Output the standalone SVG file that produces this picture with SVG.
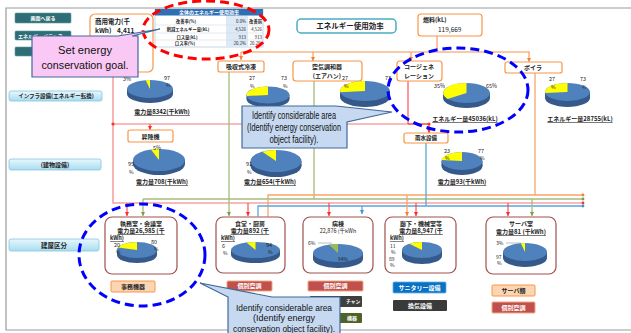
<svg xmlns="http://www.w3.org/2000/svg" width="631" height="333" viewBox="0 0 631 333">
<defs>
  <style>
    .j{font-family:'Noto Sans CJK JP','Noto Sans CJK SC',sans-serif;fill:#222}
    .b{font-weight:bold}
    .s5{font-size:5px}.s55{font-size:5.5px}.s6{font-size:6px}.s65{font-size:6.5px}
    .mid{text-anchor:middle}.end{text-anchor:end}
    .wt{fill:#fff}
    .u{text-decoration:underline}
    .en{font-family:'Liberation Sans',Arial,sans-serif;fill:#111;text-anchor:middle}
    .teal{fill:#2f6e76;stroke:#5f9aa2;stroke-width:.6}
    .ob{fill:#fff;stroke:#f79646;stroke-width:1.2}
    .bb{fill:#fff;stroke:#a0504d;stroke-width:1.2}
    .lab{fill:url(#cy);stroke:#86c5dc;stroke-width:.8}
    .pt{fill:#4f81bd}.ps{fill:#35598a}.py{fill:#ffff00}.pg{fill:#9bbb59}
    .pk{stroke:#f6a3a3;stroke-width:1.6;fill:none}
    .rd{stroke:#ff3030;stroke-width:1;fill:none}
    .gn{stroke:#a5bd7a;stroke-width:1.3;fill:none}
    .or{stroke:#f7a56a;stroke-width:1.3;fill:none}
    .ol{stroke:#f9c9a6;stroke-width:2;fill:none}
    .bl{stroke:#5aa6dc;stroke-width:1.3;fill:none}
    .frame{stroke:#9a9a9a;stroke-width:1.2;fill:none}
    .btn-r{fill:#c0504d;stroke:#f2a57c;stroke-width:1}
    .btn-o{fill:#fcd5b4;stroke:#f79646;stroke-width:1}
  </style>
  <linearGradient id="cy" x1="0" y1="0" x2="0" y2="1">
    <stop offset="0" stop-color="#e8f8fd"/>
    <stop offset="1" stop-color="#a8dcf0"/>
  </linearGradient>
  <marker id="ar-r" viewBox="0 0 4 4" refX="4" refY="2" markerWidth="4" markerHeight="4" orient="auto" markerUnits="userSpaceOnUse"><path d="M0,0 L4,2 L0,4z" fill="#ff2a2a"/></marker>
  <marker id="ar-g" viewBox="0 0 4 4" refX="4" refY="2" markerWidth="4" markerHeight="4" orient="auto" markerUnits="userSpaceOnUse"><path d="M0,0 L4,2 L0,4z" fill="#7e9c45"/></marker>
  <marker id="ar-o" viewBox="0 0 4 4" refX="4" refY="2" markerWidth="4" markerHeight="4" orient="auto" markerUnits="userSpaceOnUse"><path d="M0,0 L4,2 L0,4z" fill="#f47f30"/></marker>
  <marker id="ar-b" viewBox="0 0 4 4" refX="4" refY="2" markerWidth="4" markerHeight="4" orient="auto" markerUnits="userSpaceOnUse"><path d="M0,0 L4,2 L0,4z" fill="#3f94cf"/></marker>
</defs>

<rect width="631" height="333" fill="#fff"/>
<!-- page frame -->
<path class="frame" d="M631,8 H6 V330 H631"/>

<!-- energy flow lines -->
<g id="connectors">
  <!-- fuel supply -->
  <path class="or" d="M437,36 V52"/>
  <path class="ol" d="M241,52 H530"/>
  <path class="or" d="M241,52 V60" marker-end="url(#ar-o)"/>
  <path class="or" d="M313,52 V61" marker-end="url(#ar-o)"/>
  <path class="or" d="M411,52 V61" marker-end="url(#ar-o)"/>
  <path class="or" d="M529,52 V62" marker-end="url(#ar-o)"/>
  <!-- electricity -->
  <path class="pk" d="M113,72 V203 H583"/>
  <path class="pk" d="M113,124 H429"/>
  <path class="rd" d="M408,81 V124 H429"/>
  <circle cx="113" cy="124" r="1.6" fill="#ff3030"/>
  <circle cx="429" cy="124" r="1.6" fill="#ff3030"/>
  <path class="rd" d="M150,124 V130" marker-end="url(#ar-r)"/>
  <path class="rd" d="M429,124 V133" marker-end="url(#ar-r)"/>
  <!-- chilled / conditioned air -->
  <path class="gn" d="M229,72 V216" marker-end="url(#ar-g)"/>
  <path class="gn" d="M314,81 V199"/>
  <path class="gn" d="M143,199 H583"/>
  <!-- steam from boiler -->
  <path class="or" d="M535,73 V195"/>
  <path class="or" d="M268,216 V195 H583" marker-start="url(#ar-o)"/>
  <!-- rainwater -->
  <path class="bl" d="M426,143 V206"/>
  <path class="bl" d="M258,216 V206 H583" marker-start="url(#ar-b)"/>
  <!-- drops into buildings -->
  <path class="gn" d="M143,199 V216" marker-end="url(#ar-g)"/>
  <path class="gn" d="M532,199 V216" marker-end="url(#ar-g)"/>
  <path class="rd" d="M127,203 V216" marker-end="url(#ar-r)"/>
  <path class="rd" d="M248,203 V216" marker-end="url(#ar-r)"/>
  <path class="rd" d="M329,203 V216" marker-end="url(#ar-r)"/>
  <path class="rd" d="M416,203 V216" marker-end="url(#ar-r)"/>
  <path class="rd" d="M508,203 V216" marker-end="url(#ar-r)"/>
  <path class="or" d="M407,195 V216" marker-end="url(#ar-o)"/>
  <path class="bl" d="M362,206 V214" marker-end="url(#ar-b)"/>
  <circle cx="583" cy="195" r="1.4" fill="#f47f30"/>
  <circle cx="583" cy="199" r="1.4" fill="#7e9c45"/>
  <circle cx="583" cy="203" r="1.4" fill="#ff3030"/>
  <circle cx="583" cy="206" r="1.4" fill="#3f94cf"/>
</g>

<!-- navigation buttons -->
<g id="btn-back"><rect class="teal" x="15" y="13" width="56" height="10" rx="1"/><text class="j s5 b mid wt" x="43" y="20">画面へ戻る</text></g>
<g id="btn-balance"><rect class="teal" x="15" y="31" width="56" height="9" rx="1"/><text class="j s5 b wt" x="18" y="37.5">エネルギーバランス</text></g>
<g id="btn-third"><rect class="teal" x="15" y="47" width="56" height="9" rx="1"/></g>

<!-- side labels -->
<g id="lbl-infra"><rect class="lab" x="9" y="91" width="93" height="10" rx="2"/><text class="j s55 b mid" x="56" y="98.2">インフラ設備(エネルギー転換)</text></g>
<g id="lbl-building"><rect class="lab" x="9" y="159" width="92" height="11" rx="2"/><text class="j s6 b mid" x="55" y="167">(建物設備)</text></g>
<g id="lbl-section"><rect class="lab" x="9" y="239" width="90" height="12" rx="2"/><text class="j s65 b mid" x="54" y="247.5">建屋区分</text></g>

<!-- supply sources -->
<g id="commercial-power"><rect class="ob" x="90" y="14" width="63" height="58" rx="5"/>
  <text class="j s65 b" x="95" y="24">商用電力(千</text>
  <text class="j s65 b" x="95" y="33">kWh)</text><text class="j s65 b" x="117" y="33">4,411</text></g>

<g id="efficiency-table">
  <rect x="155" y="9" width="108" height="38" fill="#fff" stroke="#9db7d3" stroke-width=".6"/>
  <rect x="226" y="15.5" width="22" height="31.5" fill="#dce9f6"/>
  <rect x="155" y="9" width="108" height="6.5" fill="#2f6fb3"/>
  <text class="j s5 b mid wt" x="209" y="14.3">全体のエネルギー使用効率</text>
  <path d="M155,25 H263 M155,33 H263 M155,40 H263" stroke="#c8d5e3" stroke-width=".5"/>
  <text class="j b mid" font-size="4.3" x="186" y="23">改善率(%)</text>
  <text class="j b mid" font-size="4.3" x="188" y="31">削減エネルギー量(kL)</text>
  <text class="j b mid" font-size="4.3" x="187" y="38.5">ロス量(kL)</text>
  <text class="j b mid" font-size="4.3" x="185" y="45.3">ロス率(%)</text>
  <text class="j end" font-size="4.3" x="246" y="23">0.0%</text>
  <text class="j end" font-size="4.3" x="246" y="31">4,526</text>
  <text class="j end" font-size="4.3" x="246" y="38.5">913</text>
  <text class="j end" font-size="4.3" x="246" y="45.3">20.2%</text>
  <text class="j end b" font-size="4.3" x="262" y="23">改善前</text>
  <text class="j end" font-size="4.3" x="262" y="31">4,526</text>
  <text class="j end" font-size="4.3" x="262" y="38.5">913</text>
  <text class="j end" font-size="4.3" x="262" y="45.3">20.2%</text>
</g>

<g id="energy-efficiency"><rect x="297" y="19" width="99" height="14" rx="4" fill="#fff" stroke="#4bacc6" stroke-width="1.5"/>
  <text class="j b mid" font-size="7.5" x="350" y="29">エネルギー使用効率</text></g>

<g id="fuel"><rect class="ob" x="418" y="14" width="64" height="22" rx="3"/>
  <text class="j s6 b" x="423" y="22">燃料(kL)</text><text class="j s65" x="438" y="32">119,669</text></g>

<!-- conversion equipment -->
<g id="absorption-chiller"><rect class="ob" x="218" y="61" width="46" height="11" rx="2"/><text class="j s6 b mid" x="241" y="68.8">吸収式冷凍</text></g>
<g id="air-handler"><rect class="ob" x="293" y="61" width="69" height="20" rx="3"/><text class="j s6 b mid" x="327" y="69">空気調和器</text><text class="j s6 b mid" x="327" y="77.5">(エアハン)</text></g>
<g id="cogeneration"><rect class="ob" x="397" y="61" width="45" height="20" rx="3"/><text class="j s6 b mid" x="419" y="69">コージェネ</text><text class="j s6 b mid" x="419" y="77.5">レーション</text></g>
<g id="boiler"><rect class="ob" x="505" y="62" width="57" height="11" rx="2"/><text class="j s6 b mid" x="533" y="69.8">ボイラ</text></g>

<!-- infrastructure shares -->
<g id="pie-commercial">
  <ellipse class="ps" cx="150" cy="94" rx="23" ry="9"/><rect class="ps" x="127" y="89" width="46" height="5"/>
  <ellipse class="pt" cx="150" cy="89" rx="23" ry="9"/>
  <path class="py" d="M150,89 L150,80 A23,9 0 0 0 145.7,80.2 Z"/>
  <text class="j s55" x="123" y="81">3%</text><text class="j s55" x="164" y="80">97</text><text class="j s5" x="166" y="87">%</text>
  <text class="j s6 b mid u" x="162" y="114">電力量8342(千kWh)</text>
</g>
<g id="pie-chiller">
  <ellipse class="ps" cx="268" cy="99" rx="21.5" ry="8.5"/><rect class="ps" x="246.5" y="95" width="43" height="4"/>
  <ellipse class="pt" cx="268" cy="95" rx="21.5" ry="8.5"/>
  <path class="py" d="M268,95 L268,86.5 A21.5,8.5 0 0 0 246.7,96.1 Z"/>
  <text class="j s55" x="249" y="80">27</text><text class="j s5" x="250" y="88">%</text>
  <text class="j s55" x="281" y="80">73</text><text class="j s5" x="283" y="88">%</text>
</g>
<g id="pie-airhandler">
  <ellipse class="ps" cx="365" cy="97" rx="25" ry="10"/><rect class="ps" x="340" y="91" width="50" height="6"/>
  <ellipse class="pt" cx="365" cy="91" rx="25" ry="10"/>
  <path class="py" d="M365,91 L365,81 A25,10 0 0 0 340.2,92.25 Z"/>
  <text class="j s55" x="342" y="80">27</text><text class="j s5" x="344" y="88">%</text>
  <text class="j s55" x="385" y="80">73</text>
</g>
<g id="pie-cogeneration">
  <ellipse class="ps" cx="466.5" cy="98" rx="23.5" ry="10"/><rect class="ps" x="443" y="93" width="47" height="5"/>
  <ellipse class="pt" cx="466.5" cy="93" rx="23.5" ry="10"/>
  <path class="py" d="M466.5,93 L466.5,83 A23.5,10 0 0 0 447.5,98.9 Z"/>
  <text class="j s55" x="434" y="88">35%</text><text class="j s55" x="486" y="88">65%</text>
  <text class="j s6 b mid u" x="465" y="121">エネルギー量45036(kL)</text>
</g>
<g id="pie-boiler">
  <ellipse class="ps" cx="567.5" cy="98" rx="22.5" ry="9"/><rect class="ps" x="545" y="92" width="45" height="6"/>
  <ellipse class="pt" cx="567.5" cy="92" rx="22.5" ry="9"/>
  <path class="py" d="M567.5,92 L567.5,83 A22.5,9 0 0 0 545.2,93.1 Z"/>
  <text class="j s55" x="549" y="81">27</text><text class="j s5" x="551" y="89">%</text>
  <text class="j s55" x="580" y="81">73</text><text class="j s5" x="582" y="89">%</text>
  <text class="j s6 b mid u" x="580" y="121">エネルギー量28755(kL)</text>
</g>

<!-- building equipment -->
<g id="elevator"><rect class="ob" x="128" y="130" width="45" height="12" rx="2"/><text class="j s6 b mid" x="150.5" y="138.5">昇降機</text></g>
<g id="rainwater"><rect class="ob" x="404" y="133" width="44" height="10" rx="2"/><text class="j s55 b mid" x="426" y="140.3">雨水設備</text></g>

<g id="pie-elevator">
  <ellipse class="ps" cx="159" cy="164" rx="26" ry="11"/><rect class="ps" x="133" y="160" width="52" height="4"/>
  <ellipse class="pt" cx="159" cy="160" rx="26" ry="11"/>
  <path class="py" d="M159,160 L159,149 A26,11 0 0 0 151,149.5 Z"/>
  <text class="j s55" x="153" y="150">5%</text>
  <text class="j s55" x="128" y="166">95</text><text class="j s5" x="129" y="173.5">%</text>
  <text class="j s6 b mid u" x="162" y="184">電力量708(千kWh)</text>
</g>
<g id="pie-building2">
  <ellipse class="ps" cx="276" cy="166" rx="25.5" ry="11"/><rect class="ps" x="250.5" y="161" width="51" height="5"/>
  <ellipse class="pt" cx="276" cy="161" rx="25.5" ry="11"/>
  <path class="py" d="M276,161 L276,150 A25.5,11 0 0 0 262.3,151.7 Z"/>
  <text class="j s55" x="246" y="166">91</text><text class="j s5" x="247" y="173.5">%</text>
  <text class="j s6 b mid u" x="270" y="184">電力量654(千kWh)</text>
</g>
<g id="pie-rainwater">
  <ellipse class="ps" cx="462" cy="166" rx="20.5" ry="9"/><rect class="ps" x="441.5" y="161" width="41" height="5"/>
  <ellipse class="pt" cx="462" cy="161" rx="20.5" ry="9"/>
  <path class="py" d="M462,161 L462,152 A20.5,9 0 0 0 441.7,159.9 Z"/>
  <text class="j s55" x="444" y="153">23</text><text class="j s5" x="445" y="160">%</text>
  <text class="j s55" x="478" y="153">77</text><text class="j s5" x="480" y="160">%</text>
  <text class="j s6 b mid u" x="462" y="184">電力量93(千kWh)</text>
</g>

<!-- building sections -->
<g id="office">
  <rect class="bb" x="105" y="217" width="72" height="57" rx="7"/>
  <text class="j s6 b mid" x="141" y="225.5">執務室・会議室</text>
  <text class="j s6 b mid u" x="141" y="233">電力量26,985 (千</text>
  <text class="j s55 b u" x="110" y="240">kWh)</text>
  <ellipse class="ps" cx="137" cy="255" rx="20" ry="8"/><rect class="ps" x="117" y="250" width="40" height="5"/>
  <ellipse class="pt" cx="137" cy="250" rx="20" ry="8"/>
  <path class="py" d="M137,250 L137,242 A20,8 0 0 0 118,247.5 Z"/>
  <text class="j s55" x="114" y="247">20</text><text class="j s5" x="116" y="253.5">%</text>
  <text class="j s55" x="151" y="244">80</text><text class="j s5" x="154" y="251">%</text>
</g>
<g id="canteen">
  <rect class="bb" x="216" y="217" width="69" height="56" rx="7"/>
  <text class="j s6 b mid" x="250" y="225.5">食堂・厨房</text>
  <text class="j s6 b mid u" x="250" y="233">電力量892 (千</text>
  <text class="j s55 b u" x="221" y="240">kWh)</text>
  <ellipse class="ps" cx="255.5" cy="255" rx="24.5" ry="8"/><rect class="ps" x="231" y="250" width="49" height="5"/>
  <ellipse class="pt" cx="255.5" cy="250" rx="24.5" ry="8"/>
  <path class="py" d="M255.5,250 L255.5,242 A24.5,8 0 0 0 246.5,242.6 Z"/>
  <text class="j s55" x="222" y="248">6</text><text class="j s5" x="223" y="255">%</text>
  <text class="j s55" x="266" y="247">94</text><text class="j s5" x="268" y="254">%</text>
</g>
<g id="ward">
  <rect class="bb" x="303" y="217" width="70" height="56" rx="7"/>
  <text class="j s6 b mid" x="338" y="225.5">病棟</text>
  <text class="j s55 mid" x="338" y="233">22,876 (千kWh</text>
  <ellipse class="ps" cx="338" cy="259" rx="25" ry="9"/><rect class="ps" x="313" y="253" width="50" height="6"/>
  <ellipse class="pt" cx="338" cy="253" rx="25" ry="9"/>
  <path class="pg" d="M338,253 L338,244 A25,9 0 0 0 328.8,244.6 Z"/>
  <path d="M318,243 H332" stroke="#555" stroke-width=".4"/>
  <text class="j s5" x="308" y="245">6%</text>
  <text class="j s5" x="338" y="261">94%</text>
</g>
<g id="corridor">
  <rect class="bb" x="385" y="217" width="71" height="56" rx="7"/>
  <text class="j s6 b mid" x="421" y="225.5">廊下・機械室等</text>
  <text class="j s6 b mid u" x="421" y="233">電力量8,947 (千</text>
  <text class="j s55 b u" x="390" y="240">kWh)</text>
  <ellipse class="ps" cx="422" cy="256" rx="20" ry="8"/><rect class="ps" x="402" y="250" width="40" height="6"/>
  <ellipse class="pt" cx="422" cy="250" rx="20" ry="8"/>
  <path class="py" d="M422,250 L422,242 A20,8 0 0 0 409.3,243.8 Z"/>
  <text class="j s5" x="390" y="247.5">11</text><text class="j s5" x="391" y="254">%</text>
  <text class="j s5" x="389" y="260.5">89</text><text class="j s5" x="390" y="267">%</text>
</g>
<g id="server-room">
  <rect class="bb" x="486" y="217" width="70" height="57" rx="7"/>
  <text class="j s6 b mid" x="521" y="225.5">サーバ室</text>
  <text class="j s6 b mid u" x="521" y="234">電力量81 (千kWh)</text>
  <ellipse class="ps" cx="525" cy="258" rx="22" ry="9"/><rect class="ps" x="503" y="252" width="44" height="6"/>
  <ellipse class="pt" cx="525" cy="252" rx="22" ry="9"/>
  <path class="py" d="M525,252 L525,243 A22,9 0 0 0 520.9,243.2 Z"/>
  <path d="M506,243 H521" stroke="#555" stroke-width=".4"/>
  <text class="j s5" x="496" y="245">3%</text>
  <text class="j s5" x="496" y="258.5">97</text><text class="j s5" x="497" y="265">%</text>
</g>

<!-- equipment tags -->
<g id="tag-office-equip"><rect class="btn-o" x="111" y="281" width="44" height="11" rx="1"/><text class="j s6 b mid" x="133" y="288.8">事務機器</text></g>
<g id="tag-canteen-ac"><rect class="btn-r" x="227" y="281" width="45" height="10" rx="1"/><text class="j s6 b mid wt" x="249.5" y="288.3">個別空調</text></g>
<g id="tag-ward-ac"><rect class="btn-r" x="308" y="281" width="55" height="10" rx="1"/><text class="j s6 b mid wt" x="335.5" y="288.3">個別空調</text></g>
<g id="tag-ward-kitchen"><rect x="310" y="296" width="52" height="11" rx="1" fill="#3f3f3f"/><text class="j b wt" font-size="4.8" x="346" y="303.3">チャン</text></g>
<g id="tag-ward-equip"><rect x="310" y="313" width="52" height="10" rx="1" fill="#4f6228"/><text class="j s5 b wt" x="347" y="320.3">機器</text></g>
<g id="tag-sanitary"><rect x="393" y="282" width="53" height="11" rx="1" fill="#0a72c2" stroke="#5fb0ea" stroke-width=".8"/><text class="j s6 b mid wt" x="419.5" y="290">サニタリー設備</text></g>
<g id="tag-ventilation"><rect x="393" y="300" width="54" height="11" rx="1" fill="#3a3a3a"/><text class="j s6 b mid wt" x="420" y="308">換気設備</text></g>
<g id="tag-servers"><rect class="btn-o" x="492" y="285" width="43" height="11" rx="1"/><text class="j s6 b mid" x="513.5" y="292.8">サーバ類</text></g>
<g id="tag-server-ac"><rect class="btn-r" x="492" y="302" width="43" height="11" rx="1"/><text class="j s6 b mid wt" x="513.5" y="309.8">個別空調</text></g>

<!-- highlight rings -->
<ellipse cx="206" cy="30" rx="63" ry="29" fill="none" stroke="#ff0000" stroke-width="3" stroke-dasharray="9 5"/>
<ellipse cx="458" cy="90" rx="70" ry="42" fill="none" stroke="#0000ff" stroke-width="3" stroke-dasharray="9 5"/>
<ellipse cx="142" cy="255" rx="63" ry="51" fill="none" stroke="#0000ff" stroke-width="3" stroke-dasharray="9 5"/>

<!-- annotations -->
<g id="note-goal">
  <path d="M32,36 H118 L160,29 L132,36 H138 V77 H32 Z" fill="#f9c8f4" stroke="#41689e" stroke-width="1.2"/>
  <text class="en" font-size="11.5" x="85" y="54" textLength="54" lengthAdjust="spacingAndGlyphs">Set energy</text>
  <text class="en" font-size="11.5" x="85" y="69" textLength="87" lengthAdjust="spacingAndGlyphs">conservation goal.</text>
</g>
<g id="note-area-1">
  <path d="M242,106 H336 L392,112 L347,122 V148 H242 Z" fill="#c6d9f1" stroke="#3f6a9c" stroke-width="1.2"/>
  <text class="en" font-size="10" x="294" y="119" textLength="84" lengthAdjust="spacingAndGlyphs">Identify considerable area</text>
  <text class="en" font-size="10" x="294" y="131" textLength="94" lengthAdjust="spacingAndGlyphs">(Identify energy conservation</text>
  <text class="en" font-size="10" x="294" y="143" textLength="49" lengthAdjust="spacingAndGlyphs">object facility).</text>
</g>
<g id="note-area-2">
  <path d="M228,297 L200,283 L272,297 H340 V345 H228 Z" fill="#c6d9f1" stroke="#3f6a9c" stroke-width="1.2"/>
  <text class="en" font-size="9.5" x="284" y="310.5" textLength="96" lengthAdjust="spacingAndGlyphs">Identify considerable area</text>
  <text class="en" font-size="9.5" x="284" y="321" textLength="62" lengthAdjust="spacingAndGlyphs">(Identify energy</text>
  <text class="en" font-size="9.5" x="284" y="331.5" textLength="102" lengthAdjust="spacingAndGlyphs">conservation object facility).</text>
</g>
</svg>
